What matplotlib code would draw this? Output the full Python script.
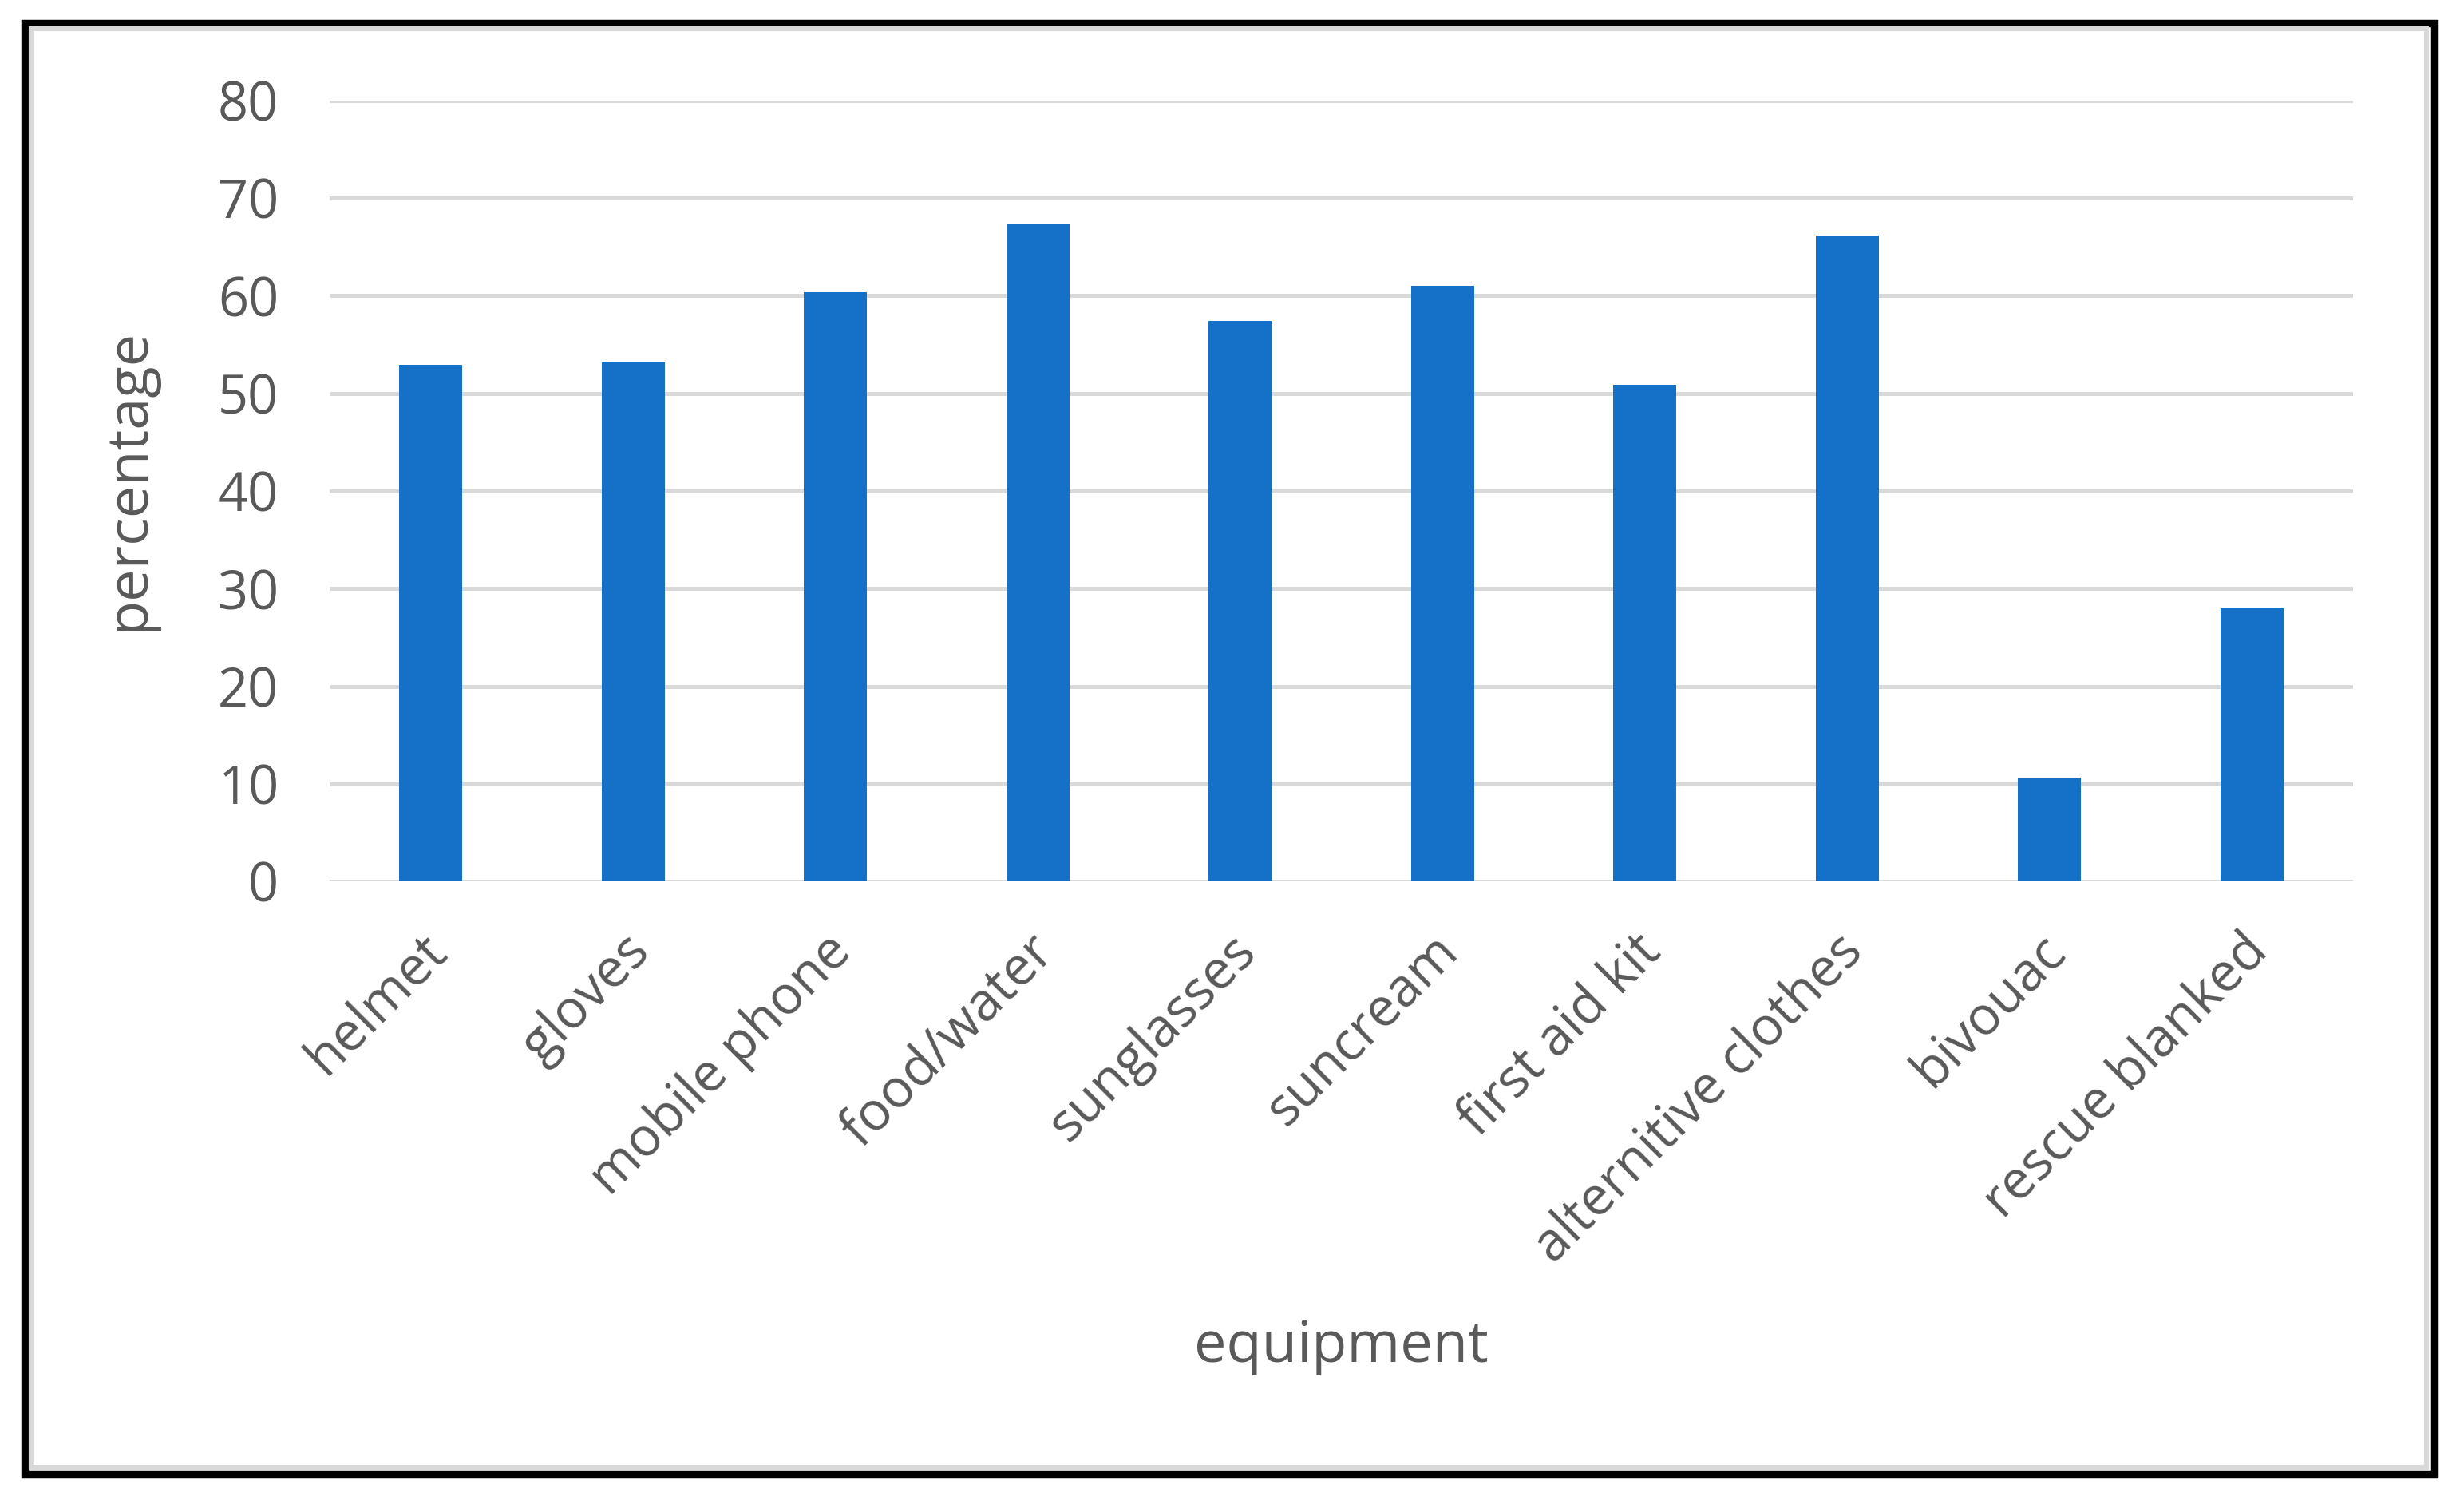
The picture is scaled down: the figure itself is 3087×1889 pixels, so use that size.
import matplotlib.pyplot as plt
from matplotlib.patches import Rectangle
from matplotlib.transforms import ScaledTranslation

plt.rcParams['font.family'] = ['Open Sans', 'DejaVu Sans']

equipment = ['helmet', 'gloves', 'mobile phone', 'food/water', 'sunglasses',
             'suncream', 'first aid kit', 'alternitive clothes', 'bivouac',
             'rescue blanked']
percentage = [52.9, 53.2, 60.4, 67.4, 57.4, 61.0, 50.9, 66.2, 10.6, 28.0]
yticks = [0, 10, 20, 30, 40, 50, 60, 70, 80]

W, H = 3087, 1889
dpi = 200
fig = plt.figure(figsize=(W / dpi, H / dpi), dpi=dpi)
fig.patch.set_facecolor('white')

txt = '#595959'
grid = '#d9d9d9'

# outer frame: black border with light grey band inside
fig.patches.append(Rectangle((31 / W, 1 - 1847 / H), (3049.5 - 31) / W, (1847 - 28.5) / H,
                             transform=fig.transFigure, fill=False, ec='black', lw=3.4, zorder=0))
fig.patches.append(Rectangle((39 / W, 1 - 1838 / H), (3040 - 39) / W, (1838 - 36) / H,
                             transform=fig.transFigure, fill=False, ec=grid, lw=2.2, zorder=0))

ax = fig.add_axes([413 / W, 1 - 1104 / H, (2948 - 413) / W, (1104 - 126) / H])
x = range(len(equipment))
ax.bar(x, percentage, width=0.31, color='#1571c8', zorder=3)

ax.set_xlim(-0.5, len(equipment) - 0.5)
ax.set_ylim(0, 80)
ax.set_yticks(yticks)
ax.yaxis.grid(True, color=grid, lw=1.8, zorder=0)
ax.set_axisbelow(True)
for s in ax.spines.values():
    s.set_visible(False)

ax.tick_params(axis='y', length=0, pad=23, labelsize=24, labelcolor=txt)
ax.tick_params(axis='x', length=0, pad=28, labelsize=24, labelcolor=txt)
ax.set_xticks(list(x))
ax.set_xticklabels(equipment, rotation=45, ha='right', va='center', rotation_mode='anchor')
off = ScaledTranslation(10 / dpi, 0, fig.dpi_scale_trans)
for lab in ax.get_xticklabels():
    lab.set_transform(lab.get_transform() + off)

ax.set_xlabel('equipment', fontsize=26, color=txt)
ax.xaxis.label.set_va('center')
ax.xaxis.set_label_coords(0.5, (1104 - 1687) / 978)
ax.set_ylabel('percentage', fontsize=26, color=txt)
ax.yaxis.label.set_va('center')
ax.yaxis.set_label_coords((161 - 413) / 2535, (1104 - 600) / 978)

fig.savefig('out.png', dpi=dpi)
